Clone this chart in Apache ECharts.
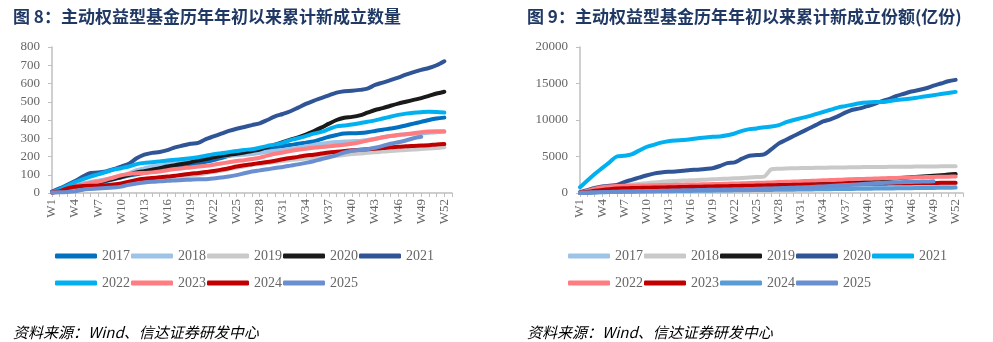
<!DOCTYPE html>
<html>
<head>
<meta charset="utf-8">
<script src="https://cdn.jsdelivr.net/npm/echarts@6/dist/echarts.min.js"></script>
<style>
  body { margin: 0; background: #fff; }
  #chart8 { position: absolute; left: 0; top: 0; width: 497px; height: 342px; }
  #chart9 { position: absolute; left: 497px; top: 0; width: 496px; height: 342px; }
</style>
</head>
<body>
<div id="chart8"></div>
<div id="chart9"></div>
<script>
// week categories (W53 kept empty so W52 sits just short of the axis end, as in the source)
const weeks = [];
for (let i = 1; i <= 53; i++) weeks.push('W' + i);

const years = ['2017', '2018', '2019', '2020', '2021', '2022', '2023', '2024', '2025'];

// 图8: cumulative number of new active equity funds
const count2017 = [5,12,20,30,38,46,55,65,75,85,95,103,110,116,123,130,138,146,155,163,171,180,192,204,215,224,232,238,245,251,257,263,270,276,282,295,308,318,326,327,329,333,340,347,353,360,370,380,390,400,408,413];
const count2018 = [5,15,28,42,52,60,68,76,84,92,108,125,135,145,150,157,163,170,176,182,190,198,202,205,207,210,214,220,226,231,236,242,248,256,263,270,276,280,282,284,285,290,297,305,312,318,322,325,327,330,333,335];
const count2019 = [2,6,11,15,21,25,31,35,41,46,50,56,61,65,71,76,82,89,95,101,108,116,122,131,139,147,154,160,164,171,175,181,185,189,194,198,201,204,208,213,216,220,223,227,230,233,236,238,241,244,247,250];
const count2020 = [5,15,25,35,42,50,58,68,78,88,100,112,120,128,136,145,152,160,168,178,186,195,203,210,215,222,230,238,252,265,278,292,305,320,338,358,380,400,412,417,425,440,455,465,478,490,500,510,520,532,545,555];
const count2021 = [8,25,45,65,90,110,112,118,130,145,160,190,210,220,225,235,250,260,270,275,295,310,325,340,352,362,372,382,400,420,433,448,468,488,505,520,535,550,558,560,565,572,592,605,618,632,648,662,675,685,700,722];
const count2022 = [5,20,40,60,75,90,102,115,128,136,145,158,165,168,172,178,182,186,190,196,204,212,218,224,230,236,240,248,258,265,275,290,300,312,325,335,350,365,370,375,382,390,398,408,418,428,435,440,443,445,444,441];
const count2023 = [3,10,22,36,45,55,62,72,85,97,104,108,110,113,118,125,131,136,140,145,149,155,162,168,175,180,186,193,205,215,222,230,237,243,248,252,256,260,264,270,278,287,296,305,312,318,322,327,333,337,339,339];
const count2024 = [3,10,25,35,38,40,40,42,46,52,62,72,78,82,86,90,95,100,106,110,115,120,128,136,145,152,158,164,170,177,185,192,198,205,210,216,222,226,230,234,237,240,243,246,250,253,256,258,260,262,266,268];
const count2025 = [3,4,6,10,18,22,25,27,30,35,45,52,57,61,64,67,69,71,73,75,76,80,85,90,98,108,118,124,130,137,143,150,157,165,174,185,196,208,222,232,235,240,248,258,270,278,288,300,308];

// 图9: cumulative new shares (亿份)
const share2017 = [0,40,90,150,210,260,300,330,350,380,410,440,470,490,515,540,560,575,600,620,645,660,680,700,725,740,760,790,805,820,845,860,880,905,920,940,965,980,1000,1030,1050,1070,1085,1100,1130,1150,1160,1185,1200,1220,1245,1260];
const share2018 = [50,200,420,600,780,950,1050,1150,1250,1350,1430,1520,1600,1650,1700,1740,1780,1830,1880,1920,1960,2010,2060,2110,2180,2250,3250,3320,3360,3390,3410,3430,3450,3460,3480,3500,3510,3520,3540,3550,3560,3570,3580,3590,3600,3610,3620,3630,3640,3650,3660,3670];
const share2019 = [20,80,150,220,280,340,390,440,480,520,560,590,620,650,690,720,760,790,830,860,900,940,980,1020,1060,1100,1150,1200,1240,1290,1330,1380,1420,1470,1520,1570,1610,1650,1700,1760,1820,1880,1950,2020,2090,2160,2220,2290,2360,2440,2520,2600];
const share2020 = [100,400,700,900,1000,1100,1500,1800,2100,2400,2650,2800,2900,2950,3050,3150,3200,3300,3400,3700,4100,4200,4700,5100,5200,5300,6000,6800,7300,7800,8300,8800,9300,9800,10100,10500,11000,11400,11600,11900,12200,12600,12900,13300,13600,13900,14100,14350,14700,15000,15300,15500];
const share2021 = [800,1700,2600,3400,4200,5000,5100,5300,5800,6300,6600,6900,7100,7200,7250,7350,7500,7600,7700,7750,7900,8150,8500,8750,8850,9000,9100,9300,9700,10000,10250,10500,10800,11100,11400,11700,11900,12100,12300,12400,12450,12450,12600,12750,12850,12950,13100,13250,13400,13550,13700,13850];
const share2022 = [50,300,600,800,900,950,980,1000,1020,1040,1060,1080,1100,1120,1140,1160,1180,1200,1220,1240,1270,1300,1330,1360,1390,1420,1450,1490,1530,1570,1610,1650,1690,1730,1770,1810,1850,1890,1920,1950,1980,2010,2040,2070,2100,2130,2160,2180,2200,2220,2240,2260];
const share2023 = [20,150,300,420,520,600,640,670,700,715,740,755,780,800,815,840,860,875,900,920,935,960,980,995,1020,1040,1055,1080,1100,1115,1140,1160,1175,1200,1220,1235,1260,1270,1280,1290,1300,1310,1320,1330,1340,1350,1360,1370,1380,1390,1400,1410];
const share2024 = [10,40,70,100,120,140,160,175,190,205,220,235,250,262,275,288,300,312,325,338,350,362,375,388,400,412,425,438,450,462,475,488,500,512,525,538,550,562,575,588,600,612,625,638,650,662,675,688,700,712,725,740];
const share2025 = [10,40,80,120,150,180,200,220,240,260,280,300,320,340,360,380,400,420,440,460,480,500,520,545,570,600,630,660,690,720,760,800,850,900,960,1020,1080,1140,1200,1260,1330,1380,1420,1460,1490,1520,1550,1570,1600];

const countData = [count2017, count2018, count2019, count2020, count2021, count2022, count2023, count2024, count2025];
const shareData = [share2017, share2018, share2019, share2020, share2021, share2022, share2023, share2024, share2025];

const colors8 = ['#0070C0', '#9DC3E6', '#C9C9C9', '#1A1A1A', '#2F5597', '#00B0F0', '#FF7C80', '#C00000', '#6A8FD0'];
const colors9 = ['#9DC3E6', '#C9C9C9', '#1A1A1A', '#2F5597', '#00B0F0', '#FF7C80', '#C00000', '#5B9BD5', '#6A8FD0'];

const serif = '"Liberation Serif", "DejaVu Serif", serif';
const labelColor = '#666';
const axisColor = '#BFBFBF';

function buildOption(cfg) {
  const legendCommon = {
    selectedMode: false,
    left: cfg.legendLeft,
    padding: 0,
    itemWidth: 42,
    itemHeight: 5,
    itemGap: 1,
    icon: 'roundRect',
    textStyle: { fontFamily: serif, fontSize: 14, color: labelColor }
  };
  return {
    animation: false,
    color: cfg.colors,
    title: [
      {
        text: cfg.title,
        left: cfg.titleLeft,
        top: 3,
        textStyle: { fontFamily: '"Noto Sans CJK SC"', fontSize: 17, fontWeight: 'bold', color: '#1F3864' }
      },
      {
        text: '资料来源：Wind、信达证券研发中心',
        left: cfg.titleLeft,
        top: 320,
        textStyle: { fontFamily: '"Noto Sans CJK SC"', fontSize: 15, fontWeight: 'normal', fontStyle: 'italic', color: '#000' }
      }
    ],
    legend: [
      Object.assign({ top: 249, data: years.slice(0, 5) }, legendCommon),
      Object.assign({ top: 276, data: years.slice(5) }, legendCommon)
    ],
    grid: { left: cfg.gridLeft, top: 47, width: cfg.gridWidth, height: 146, containLabel: false },
    xAxis: {
      type: 'category',
      data: weeks,
      boundaryGap: false,
      axisLine: { lineStyle: { color: axisColor, width: 1.5 } },
      axisTick: { interval: 0, length: 4, lineStyle: { color: axisColor } },
      axisLabel: {
        interval: 2,
        rotate: 90,
        margin: 6,
        fontFamily: serif,
        fontSize: 13,
        color: labelColor
      },
      splitLine: { show: false }
    },
    yAxis: {
      type: 'value',
      min: 0,
      max: cfg.yMax,
      interval: cfg.yInterval,
      axisLine: { show: true, lineStyle: { color: axisColor, width: 1.5 } },
      axisTick: { show: true, length: 4, lineStyle: { color: axisColor } },
      axisLabel: { margin: 12, fontFamily: serif, fontSize: 13, color: labelColor, formatter: v => String(v) },
      splitLine: { show: false }
    },
    series: years.map((y, i) => ({
      name: y,
      type: 'line',
      data: cfg.data[i],
      smooth: 0.3,
      showSymbol: false,
      lineStyle: { width: 4, cap: 'round', join: 'round' }
    }))
  };
}

const chart8 = echarts.init(document.getElementById('chart8'));
chart8.setOption(buildOption({
  title: '图 8：主动权益型基金历年年初以来累计新成立数量',
  titleLeft: 8,
  legendLeft: 55,
  gridLeft: 52,
  gridWidth: 400,
  yMax: 800,
  yInterval: 100,
  colors: colors8,
  data: countData
}));

const chart9 = echarts.init(document.getElementById('chart9'));
chart9.setOption(buildOption({
  title: '图 9：主动权益型基金历年年初以来累计新成立份额(亿份)',
  titleLeft: 25,
  legendLeft: 71,
  gridLeft: 83,
  gridWidth: 383,
  yMax: 20000,
  yInterval: 5000,
  colors: colors9,
  data: shareData
}));
</script>
</body>
</html>
